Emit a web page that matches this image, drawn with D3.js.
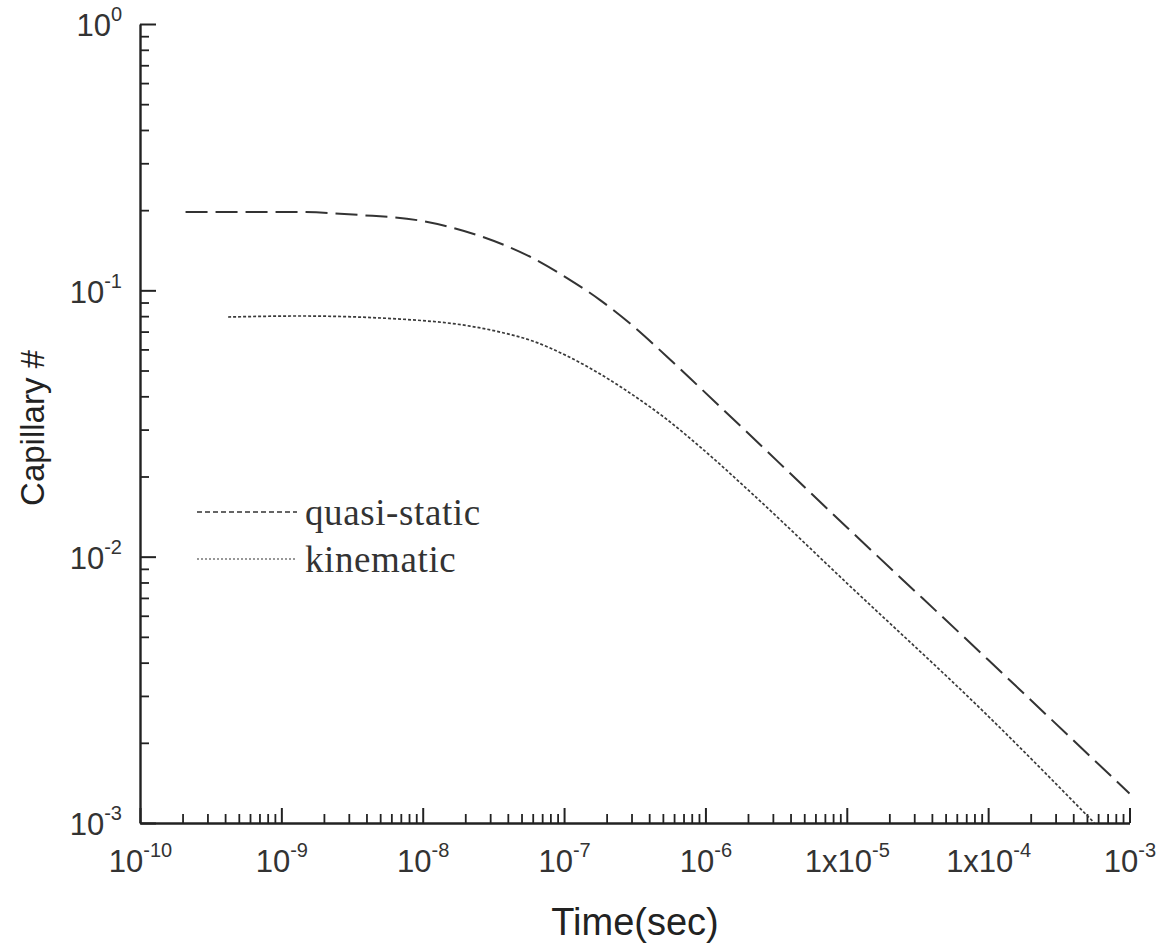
<!DOCTYPE html>
<html>
<head>
<meta charset="utf-8">
<script src="https://cdn.jsdelivr.net/npm/d3@7"></script>
<style>
  body { margin: 0; background: #fff; }
  svg { display: block; }
  .axis path, .axis line { stroke: #222; }
</style>
</head>
<body>
<div id="chart"></div>
<script>
// Values (time in sec, capillary number).
var quasiTime = [2.1e-10, 1.15e-9, 3.6e-9, 1.0e-8, 2.67e-8, 6.0e-8, 1.05e-7, 1.8e-7, 3.08e-7, 5.28e-7, 9.2e-7, 1.0e-5, 1.0e-4, 1.0e-3];
var quasiCap  = [0.197, 0.197, 0.1918, 0.182, 0.1585, 0.1322, 0.1112, 0.0919, 0.0734, 0.0567, 0.0430, 0.0129, 0.0041, 0.00129];

var kinTime = [4.2e-10, 1.36e-9, 6.9e-9, 2.16e-8, 3.53e-8, 6.0e-8, 1.05e-7, 1.8e-7, 3.08e-7, 5.28e-7, 9.2e-7, 2.08e-6, 1.0e-5, 1.0e-4, 5.65e-4];
var kinCap  = [0.0794, 0.0801, 0.0780, 0.0734, 0.0697, 0.0645, 0.0567, 0.0485, 0.0404, 0.0329, 0.0258, 0.01748, 0.00796, 0.00252, 0.0010];

// Tick labels.
var xMajor     = [1e-10, 1e-9, 1e-8, 1e-7, 1e-6, 1e-5, 1e-4, 1e-3];
var xLabelBase = ["10", "10", "10", "10", "10", "1x10", "1x10", "10"];
var xLabelExp  = ["-10", "-9", "-8", "-7", "-6", "-5", "-4", "-3"];
var yMajor     = [1e-3, 1e-2, 1e-1, 1];
var yLabelBase = ["10", "10", "10", "10"];
var yLabelExp  = ["-3", "-2", "-1", "0"];

var legendNames = ["quasi-static", "kinematic"];

var width = 1166, height = 947;
var svg = d3.select("#chart").append("svg")
    .attr("width", width)
    .attr("height", height);

var x = d3.scaleLog().domain([1e-10, 1e-3]).range([140, 1129.5]);
var y = d3.scaleLog().domain([1e-3, 1]).range([823, 24]);

// 2..9 minor ticks inside every decade.
function minorTicks(majors) {
    var out = [];
    for (var i = 0; i < majors.length - 1; i++) {
        for (var k = 2; k <= 9; k++) out.push(k * majors[i]);
    }
    return out;
}

var sans = "'Liberation Sans', Arial, sans-serif";

function writeLabel(sel, bases, exps) {
    sel.each(function(d, i) {
        var t = d3.select(this);
        t.text(null);
        t.append("tspan").text(bases[i]);
        t.append("tspan").attr("font-size", 20).attr("dy", -15).text(exps[i]);
    });
}

/* ---- x axis ---- */
var gx = svg.append("g").attr("class", "axis").attr("transform", "translate(0,823)");
gx.call(d3.axisBottom(x).tickValues(minorTicks(xMajor)).tickSize(-9).tickFormat(""))
  .call(function(g) { g.select(".domain").remove(); g.selectAll("line").attr("stroke-width", 1.8); });

var gxMaj = svg.append("g").attr("class", "axis").attr("transform", "translate(0,823)");
gxMaj.call(d3.axisBottom(x).tickValues(xMajor).tickSize(-15).tickSizeOuter(0).tickFormat(""));
gxMaj.select(".domain").attr("stroke-width", 2.4);
gxMaj.selectAll("line").attr("stroke-width", 2);
gxMaj.selectAll(".tick text")
    .attr("y", 49).attr("dy", null)
    .attr("font-family", sans).attr("font-size", 31).attr("fill", "#333")
    .call(writeLabel, xLabelBase, xLabelExp);

/* ---- y axis ---- */
var gy = svg.append("g").attr("class", "axis").attr("transform", "translate(140,0)");
gy.call(d3.axisLeft(y).tickValues(minorTicks(yMajor)).tickSize(-9).tickFormat(""))
  .call(function(g) { g.select(".domain").remove(); g.selectAll("line").attr("stroke-width", 1.8); });

var gyMaj = svg.append("g").attr("class", "axis").attr("transform", "translate(140,0)");
gyMaj.call(d3.axisLeft(y).tickValues(yMajor).tickSize(-16).tickSizeOuter(0).tickFormat(""));
gyMaj.select(".domain").attr("stroke-width", 2.4);
gyMaj.selectAll("line").attr("stroke-width", 2);
gyMaj.selectAll(".tick text")
    .attr("x", -18).attr("dy", "0.38em")
    .attr("font-family", sans).attr("font-size", 31).attr("fill", "#333")
    .call(writeLabel, yLabelBase, yLabelExp);

/* ---- axis titles ---- */
svg.append("text")
    .attr("x", 635).attr("y", 935)
    .attr("text-anchor", "middle")
    .attr("font-family", sans).attr("font-size", 38).attr("fill", "#222")
    .text("Time(sec)");

svg.append("text")
    .attr("transform", "translate(44,428) rotate(-90)")
    .attr("text-anchor", "middle")
    .attr("font-family", sans).attr("font-size", 33).attr("fill", "#222")
    .text("Capillary #");

/* ---- curves ---- */
var line = d3.line()
    .x(function(d) { return x(d[0]); })
    .y(function(d) { return y(d[1]); })
    .curve(d3.curveMonotoneX);

svg.append("path")
    .datum(d3.zip(quasiTime, quasiCap))
    .attr("d", line)
    .attr("fill", "none")
    .attr("stroke", "#333")
    .attr("stroke-width", 2)
    .attr("stroke-dasharray", "22,8");

svg.append("path")
    .datum(d3.zip(kinTime, kinCap))
    .attr("d", line)
    .attr("fill", "none")
    .attr("stroke", "#3a3a3a")
    .attr("stroke-width", 1.7)
    .attr("stroke-dasharray", "3,2");

/* ---- legend ---- */
var legendDash = ["5,3", "2,2"];
var legendColor = ["#333", "#777"];
var legend = svg.append("g").attr("transform", "translate(197,512)");
legendNames.forEach(function(name, i) {
    var row = legend.append("g").attr("transform", "translate(0," + (i * 47) + ")");
    row.append("line")
        .attr("x1", 0).attr("x2", 100).attr("y1", 0).attr("y2", 0)
        .attr("stroke", legendColor[i]).attr("stroke-width", 1.5)
        .attr("stroke-dasharray", legendDash[i]);
    row.append("text")
        .attr("x", 108).attr("y", 13)
        .attr("font-family", "'Liberation Serif', 'Times New Roman', serif")
        .attr("font-size", 37).attr("letter-spacing", 0.6).attr("fill", "#333")
        .text(name);
});
</script>
</body>
</html>
